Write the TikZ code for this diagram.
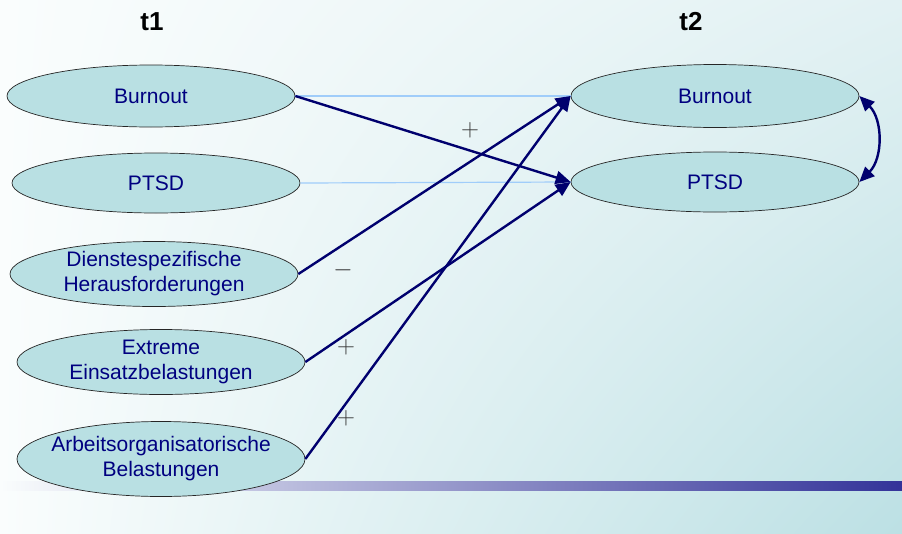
\documentclass[tikz,border=0pt]{standalone}
\usepackage{fontspec}
\setmainfont{Liberation Sans}
\usetikzlibrary{shapes.geometric,arrows.meta,shadings}
\definecolor{navytext}{RGB}{0,0,128}
\definecolor{arrownavy}{RGB}{0,0,110}
\definecolor{ellfill}{RGB}{185,224,227}
\definecolor{bglight}{RGB}{250,253,253}
\definecolor{bgmid}{RGB}{226,241,243}
\definecolor{bgdark}{RGB}{188,224,228}
\definecolor{paleline}{RGB}{160,205,250}
\definecolor{barend}{RGB}{51,51,153}
\tikzset{
  var/.style={ellipse, draw=black!85, line width=0.7pt, fill=ellfill,
    minimum width=288pt, minimum height=#1, inner xsep=-20pt, inner ysep=-12pt,
    align=center, text=navytext, font=\fontsize{21}{25}\selectfont},
  var/.default=62pt,
  wave/.style={font=\bfseries\fontsize{26}{28}\selectfont},
  path/.style={draw=arrownavy, line width=2.4pt, -{Triangle[length=15pt,width=13pt]}},
  stab/.style={draw=paleline, line width=1.2pt},
  sign/.style={text=black!80, font=\fontsize{28}{28}\selectfont},
}
\begin{document}
\begin{tikzpicture}[x=1pt,y=-1pt]
  \useasboundingbox (0,0) rectangle (902,533);
  % background
  \shade[upper left=bglight, upper right=bgmid, lower left=bglight,
         lower right=bgdark] (0,0) rectangle (902,533);
  % footer bar
  \shade[left color=bglight, right color=barend] (0,481) rectangle (902,490);

  % wave headings
  \node[wave] (t1) at (152,22) {t1};
  \node[wave] (t2) at (691,22) {t2};

  % first wave
  \node[var] (b1) at (151,96) {Burnout};
  \node[var=60pt] (p1) at (156,183) {PTSD};
  \node[var=65pt] (d1) at (154,274) {Dienstespezifische\\Herausforderungen};
  \node[var=65pt] (e1) at (161,362) {Extreme\\Einsatzbelastungen};
  \node[var=75pt] (a1) at (161,459) {Arbeitsorganisatorische\\Belastungen};

  % second wave
  \node[var=63pt] (b2) at (715,96) {Burnout};
  \node[var=60pt] (p2) at (715,182) {PTSD};

  % stability paths
  \draw[stab] (b1.east) -- (b2.west);
  \draw[stab] (p1.east) -- (p2.west);

  % cross-lagged and predictor paths
  \draw[path] (b1.east) -- (p2.west);
  \draw[path] (d1.east) -- (b2.west);
  \draw[path] (e1.east) -- (p2.west);
  \draw[path] (a1.east) -- (b2.west);

  % residual correlation at t2
  \draw[draw=arrownavy, line width=2.4pt,
        {Triangle[length=15pt,width=13pt]}-{Triangle[length=15pt,width=13pt]}]
        (b2.east) to[bend left=45] (p2.east);

  % signs
  \node[sign] (s1) at (470,130) {$+$};
  \node[sign] (s2) at (343,270) {$-$};
  \node[sign] (s3) at (346,347) {$+$};
  \node[sign] (s4) at (346,418) {$+$};
\end{tikzpicture}
\end{document}
